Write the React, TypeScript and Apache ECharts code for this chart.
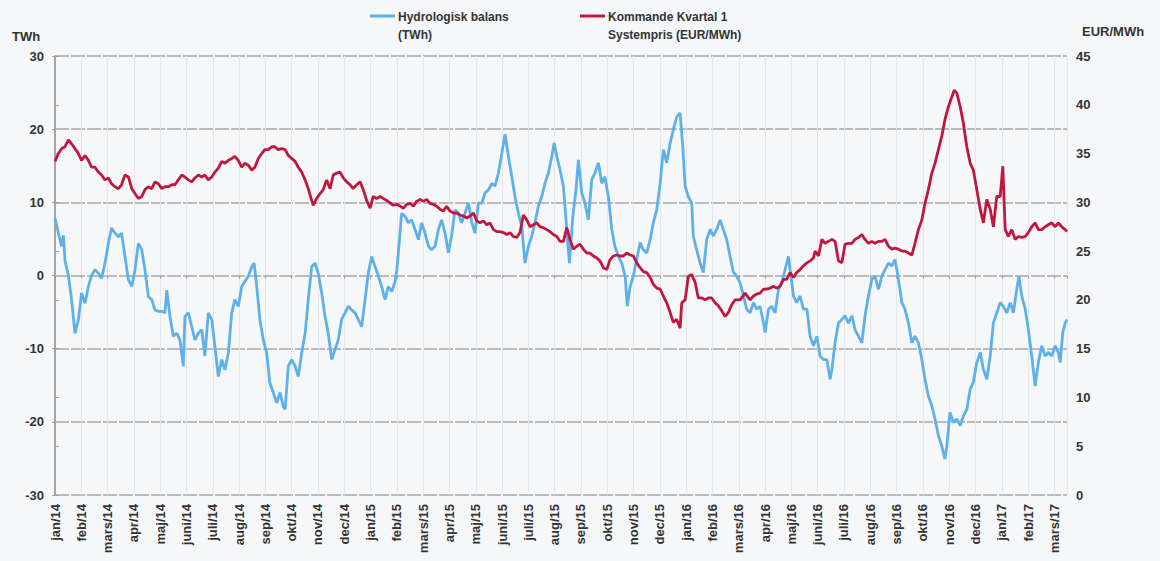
import React, { useEffect, useRef } from 'react';
import * as echarts from 'echarts';

const monthLabels = [
  'jan/14', 'feb/14', 'mars/14', 'apr/14', 'maj/14', 'juni/14', 'juli/14', 'aug/14', 'sep/14', 'okt/14', 'nov/14', 'dec/14',
  'jan/15', 'feb/15', 'mars/15', 'apr/15', 'maj/15', 'juni/15', 'juli/15', 'aug/15', 'sep/15', 'okt/15', 'nov/15', 'dec/15',
  'jan/16', 'feb/16', 'mars/16', 'apr/16', 'maj/16', 'juni/16', 'juli/16', 'aug/16', 'sep/16', 'okt/16', 'nov/16', 'dec/16',
  'jan/17', 'feb/17', 'mars/17',
];

const seriesNames = ['Hydrologisk balans\n(TWh)', 'Kommande Kvartal 1\nSystempris (EUR/MWh)'];

// position in months since the start of jan/14
const hydroMonth = [
  0.00, 0.13, 0.25, 0.32, 0.38, 0.51, 0.63, 0.76, 0.89, 1.01, 1.14, 1.27, 1.39, 1.52, 1.65, 1.77, 1.90, 2.03, 2.15, 2.28,
  2.41, 2.53, 2.66, 2.79, 2.92, 3.04, 3.17, 3.30, 3.42, 3.55, 3.68, 3.80, 3.93, 4.06, 4.18, 4.25, 4.37, 4.50, 4.63, 4.75,
  4.88, 4.94, 5.07, 5.20, 5.32, 5.45, 5.58, 5.70, 5.83, 5.96, 6.08, 6.21, 6.34, 6.46, 6.59, 6.72, 6.84, 6.97, 7.10, 7.22,
  7.35, 7.48, 7.57, 7.67, 7.79, 7.92, 8.05, 8.17, 8.30, 8.43, 8.56, 8.68, 8.75, 8.87, 9.00, 9.13, 9.25, 9.38, 9.51, 9.63,
  9.76, 9.89, 10.01, 10.14, 10.27, 10.39, 10.52, 10.65, 10.77, 10.90, 11.03, 11.15, 11.28, 11.41, 11.53, 11.66, 11.79, 11.91, 12.04, 12.17,
  12.29, 12.42, 12.55, 12.67, 12.80, 12.92, 13.00, 13.10, 13.18, 13.31, 13.44, 13.56, 13.69, 13.82, 13.94, 14.07, 14.20, 14.32, 14.45, 14.58,
  14.70, 14.83, 14.96, 15.08, 15.21, 15.34, 15.46, 15.59, 15.72, 15.85, 15.97, 16.10, 16.23, 16.35, 16.48, 16.61, 16.73, 16.86, 16.99, 17.11,
  17.24, 17.37, 17.49, 17.62, 17.75, 17.87, 18.00, 18.13, 18.25, 18.38, 18.51, 18.63, 18.76, 18.89, 18.98, 19.08, 19.20, 19.33, 19.46, 19.56,
  19.69, 19.81, 19.90, 20.03, 20.15, 20.28, 20.41, 20.53, 20.66, 20.79, 20.91, 21.04, 21.17, 21.29, 21.42, 21.55, 21.68, 21.76, 21.87, 21.99,
  22.12, 22.25, 22.37, 22.50, 22.63, 22.75, 22.88, 23.01, 23.13, 23.26, 23.39, 23.51, 23.64, 23.77, 23.87, 23.96, 24.08, 24.21, 24.27, 24.40,
  24.53, 24.65, 24.78, 24.91, 25.03, 25.16, 25.29, 25.41, 25.54, 25.67, 25.79, 25.92, 26.05, 26.18, 26.30, 26.43, 26.56, 26.68, 26.81, 26.94,
  27.00, 27.13, 27.25, 27.38, 27.51, 27.63, 27.76, 27.89, 27.95, 28.08, 28.20, 28.33, 28.46, 28.59, 28.71, 28.84, 28.97, 29.09, 29.22, 29.35,
  29.47, 29.54, 29.66, 29.79, 29.92, 30.04, 30.17, 30.30, 30.42, 30.55, 30.68, 30.80, 30.93, 31.06, 31.18, 31.31, 31.44, 31.56, 31.69, 31.82,
  31.94, 32.07, 32.20, 32.32, 32.45, 32.58, 32.70, 32.83, 32.96, 33.08, 33.21, 33.34, 33.46, 33.59, 33.72, 33.84, 33.91, 34.03, 34.16, 34.29,
  34.42, 34.54, 34.67, 34.80, 34.92, 35.05, 35.18, 35.30, 35.43, 35.56, 35.68, 35.81, 35.94, 36.06, 36.19, 36.32, 36.44, 36.57, 36.65, 36.76,
  36.89, 37.01, 37.14, 37.27, 37.39, 37.52, 37.65, 37.77, 37.90, 38.03, 38.15, 38.22, 38.32, 38.41, 38.48,
];

const hydroTWh = [
  7.8, 5.8, 4.0, 5.5, 2.0, 0.0, -3.3, -7.9, -6.0, -2.4, -3.8, -1.5, 0.0, 0.8, 0.3, -0.4, 1.7, 4.4, 6.5, 5.8,
  5.3, 5.8, 2.6, -0.6, -1.5, 0.8, 4.4, 3.5, 0.8, -2.9, -3.3, -4.7, -4.9, -4.9, -5.1, -2.0, -5.6, -8.3, -7.9, -8.8,
  -12.4, -5.6, -5.1, -7.0, -8.8, -7.9, -7.4, -11.0, -5.1, -6.0, -9.7, -13.8, -11.5, -12.9, -10.6, -5.1, -3.3, -4.2, -1.5, -0.8,
  -0.1, 1.2, 1.7, -1.5, -6.0, -8.8, -10.6, -14.7, -16.0, -17.4, -16.0, -17.9, -18.3, -12.4, -11.5, -12.4, -13.8, -10.6, -7.9, -3.3,
  1.2, 1.7, 0.3, -2.4, -5.6, -7.9, -11.5, -10.1, -8.8, -6.0, -5.1, -4.2, -4.7, -5.1, -6.0, -7.0, -3.3, 0.3, 2.6, 1.2,
  0.0, -1.5, -3.3, -1.5, -2.2, -1.0, 0.8, 5.0, 8.5, 8.1, 7.2, 7.6, 6.3, 4.9, 7.2, 5.8, 4.0, 3.5, 4.0, 6.3,
  7.6, 5.8, 3.1, 5.4, 9.0, 8.5, 7.2, 8.5, 9.9, 7.2, 5.8, 9.9, 9.9, 11.3, 11.7, 12.6, 12.2, 14.0, 16.7, 19.3,
  16.3, 13.5, 10.8, 8.5, 6.7, 1.7, 4.0, 5.4, 7.2, 9.5, 10.8, 12.6, 14.0, 16.3, 18.1, 16.3, 14.5, 12.2, 6.3, 1.7,
  8.1, 11.7, 15.8, 11.3, 9.9, 7.6, 13.1, 14.0, 15.4, 12.6, 13.5, 10.8, 6.3, 4.0, 2.6, 1.7, -0.1, -4.2, -1.5, -0.1,
  2.2, 4.5, 3.5, 3.1, 4.9, 7.2, 9.0, 12.6, 17.2, 15.4, 18.1, 19.9, 21.7, 22.2, 17.6, 12.2, 10.8, 9.9, 5.4, 3.5,
  1.7, 0.4, 4.9, 6.3, 5.4, 6.3, 7.6, 6.3, 4.9, 2.6, 0.5, -0.1, -1.0, -2.8, -4.6, -5.1, -3.7, -4.6, -4.2, -6.5,
  -7.8, -4.6, -4.2, -5.1, -1.9, -1.0, 0.8, 2.6, 0.8, -2.8, -3.7, -2.8, -4.6, -4.6, -8.3, -9.6, -8.3, -11.0, -11.5, -11.5,
  -14.2, -12.8, -9.2, -6.5, -6.0, -5.5, -6.5, -5.5, -7.4, -8.3, -9.2, -5.5, -2.8, -0.5, -0.1, -1.9, -0.1, 0.8, 1.7, 1.3,
  2.2, -0.5, -3.7, -4.6, -6.5, -9.2, -8.3, -9.2, -11.5, -14.2, -16.5, -17.8, -19.6, -21.9, -23.3, -25.1, -23.3, -18.7, -20.1, -19.6,
  -20.5, -19.2, -18.3, -15.5, -14.6, -11.9, -10.5, -12.8, -14.2, -11.0, -6.5, -5.1, -3.7, -4.2, -5.1, -3.7, -5.1, -1.9, -0.1, -2.8,
  -4.6, -7.4, -11.0, -15.1, -11.9, -9.6, -11.0, -10.5, -11.0, -9.6, -10.5, -11.9, -7.8, -6.5, -6.0,
];

const priceMonth = [
  0.00, 0.13, 0.25, 0.38, 0.51, 0.63, 0.76, 0.89, 1.01, 1.14, 1.27, 1.39, 1.52, 1.65, 1.77, 1.90, 2.03, 2.15, 2.28, 2.41,
  2.53, 2.66, 2.79, 2.92, 3.04, 3.17, 3.30, 3.42, 3.55, 3.68, 3.80, 3.93, 4.06, 4.18, 4.31, 4.44, 4.56, 4.69, 4.82, 4.94,
  5.07, 5.20, 5.32, 5.45, 5.58, 5.70, 5.83, 5.96, 6.08, 6.21, 6.34, 6.46, 6.59, 6.72, 6.84, 6.97, 7.10, 7.22, 7.35, 7.48,
  7.60, 7.73, 7.86, 7.98, 8.11, 8.24, 8.36, 8.49, 8.62, 8.75, 8.87, 9.00, 9.13, 9.25, 9.38, 9.51, 9.63, 9.76, 9.82, 9.95,
  10.08, 10.20, 10.33, 10.46, 10.58, 10.71, 10.84, 10.96, 11.09, 11.22, 11.34, 11.47, 11.60, 11.72, 11.85, 11.98, 12.10, 12.23, 12.36, 12.48,
  12.61, 12.86, 13.00, 13.25, 13.37, 13.50, 13.63, 13.75, 13.88, 14.01, 14.13, 14.26, 14.39, 14.51, 14.64, 14.77, 14.89, 15.02, 15.15, 15.27,
  15.40, 15.53, 15.66, 15.78, 15.91, 16.04, 16.16, 16.29, 16.42, 16.54, 16.67, 16.80, 16.92, 17.05, 17.18, 17.30, 17.43, 17.56, 17.68, 17.81,
  17.94, 18.06, 18.19, 18.32, 18.44, 18.57, 18.70, 18.82, 18.95, 19.08, 19.20, 19.33, 19.46, 19.58, 19.71, 19.84, 19.96, 20.09, 20.22, 20.34,
  20.47, 20.60, 20.72, 20.85, 20.98, 21.10, 21.23, 21.36, 21.49, 21.61, 21.74, 21.87, 21.99, 22.12, 22.25, 22.37, 22.50, 22.63, 22.75, 22.88,
  23.01, 23.13, 23.26, 23.39, 23.51, 23.64, 23.77, 23.83, 23.96, 24.08, 24.21, 24.34, 24.46, 24.59, 24.72, 24.84, 24.97, 25.10, 25.22, 25.35,
  25.48, 25.60, 25.73, 25.86, 26.05, 26.24, 26.43, 26.56, 26.68, 26.81, 26.94, 27.06, 27.19, 27.32, 27.44, 27.57, 27.70, 27.82, 27.95, 28.08,
  28.20, 28.33, 28.46, 28.59, 28.71, 28.84, 28.90, 29.03, 29.16, 29.28, 29.41, 29.54, 29.66, 29.79, 29.92, 30.04, 30.17, 30.30, 30.42, 30.55,
  30.68, 30.80, 30.93, 31.06, 31.18, 31.31, 31.44, 31.56, 31.69, 31.82, 31.94, 32.07, 32.20, 32.32, 32.45, 32.58, 32.70, 32.83, 32.96, 33.08,
  33.21, 33.34, 33.46, 33.59, 33.72, 33.84, 33.97, 34.10, 34.19, 34.29, 34.42, 34.54, 34.67, 34.80, 34.92, 35.05, 35.18, 35.30, 35.43, 35.56,
  35.68, 35.81, 35.94, 36.04, 36.13, 36.25, 36.38, 36.51, 36.63, 36.76, 36.89, 37.01, 37.14, 37.27, 37.39, 37.52, 37.65, 37.77, 37.90, 38.03,
  38.15, 38.28, 38.41, 38.48,
];

const priceEUR = [
  34.2, 35.0, 35.5, 35.7, 36.4, 36.0, 35.5, 35.0, 34.3, 34.8, 34.3, 33.6, 33.6, 33.1, 32.8, 32.3, 32.5, 31.9, 31.6, 31.4,
  31.8, 32.8, 32.6, 31.4, 30.9, 30.4, 30.6, 31.3, 31.6, 31.4, 32.1, 31.9, 31.4, 31.6, 31.6, 31.8, 31.8, 32.3, 32.8, 32.6,
  32.3, 32.1, 32.5, 32.8, 32.6, 32.8, 32.3, 32.6, 33.1, 33.5, 34.2, 34.0, 34.3, 34.5, 34.7, 34.3, 33.6, 34.0, 33.8, 33.3,
  33.6, 34.5, 35.0, 35.4, 35.4, 35.7, 35.7, 35.4, 35.5, 35.4, 34.8, 34.5, 34.2, 33.6, 33.1, 32.3, 31.4, 30.2, 29.7, 30.4,
  30.9, 31.3, 32.3, 31.4, 32.8, 33.0, 33.1, 32.5, 32.1, 31.8, 31.4, 31.8, 32.1, 31.3, 30.2, 29.4, 30.6, 30.4, 30.6, 30.4,
  30.2, 29.7, 29.8, 29.4, 29.8, 29.9, 29.6, 30.1, 30.3, 30.1, 30.3, 29.9, 29.8, 29.6, 29.3, 29.1, 29.6, 29.1, 28.9, 28.9,
  28.7, 28.6, 28.4, 28.6, 28.9, 28.1, 27.9, 28.1, 27.7, 27.9, 27.2, 27.0, 27.0, 26.9, 26.7, 26.9, 26.5, 26.4, 26.9, 28.7,
  28.2, 27.5, 27.7, 27.9, 27.5, 27.4, 27.2, 27.0, 26.7, 26.5, 26.0, 26.0, 27.4, 26.2, 25.2, 25.5, 25.7, 25.2, 24.8, 24.8,
  24.5, 24.3, 24.0, 23.3, 23.1, 24.1, 24.5, 24.6, 24.5, 24.5, 24.8, 24.6, 24.5, 23.8, 23.3, 22.9, 22.8, 22.3, 21.6, 21.2,
  21.1, 20.4, 19.7, 18.7, 17.7, 18.0, 17.1, 19.7, 20.0, 22.4, 22.6, 21.8, 20.2, 20.2, 20.0, 20.2, 20.2, 19.7, 19.4, 18.9,
  18.3, 18.7, 19.5, 20.0, 20.0, 20.7, 20.0, 20.4, 20.6, 20.7, 21.1, 21.1, 21.2, 21.4, 21.2, 21.4, 22.1, 22.1, 22.8, 22.3,
  22.8, 23.1, 23.5, 23.8, 24.0, 24.3, 25.0, 24.5, 26.2, 25.8, 26.0, 26.2, 26.0, 24.0, 23.8, 25.7, 25.8, 25.8, 26.2, 26.4,
  26.7, 26.2, 25.8, 26.0, 25.8, 26.0, 26.0, 26.2, 25.5, 25.2, 25.3, 25.2, 25.0, 25.0, 24.8, 24.6, 25.8, 27.2, 28.2, 29.9,
  31.3, 33.0, 34.0, 35.4, 36.8, 38.5, 39.8, 40.8, 41.5, 41.2, 39.8, 38.1, 35.7, 34.0, 33.3, 31.3, 29.3, 27.9, 30.3, 29.3,
  27.5, 30.6, 30.6, 33.7, 27.2, 26.5, 27.2, 26.2, 26.5, 26.4, 26.5, 26.9, 27.5, 27.9, 27.2, 27.2, 27.5, 27.7, 27.9, 27.5,
  27.9, 27.5, 27.2, 27.0,
];

const FONT = "'Liberation Sans', Arial, sans-serif";
const BLUE = '#5db1e8';
const RED = '#c0173f';
const TEXT = '#333333';

export default function App() {
  const ref = useRef<HTMLDivElement>(null);

  useEffect(() => {
    const chart = echarts.init(ref.current!, null, { renderer: 'svg' });
    const xMax = 38.48;
    chart.setOption({
      animation: false,
      backgroundColor: '#f6f7f9',
      textStyle: { fontFamily: FONT },
      grid: { left: 55, right: 93, top: 56, bottom: 66, containLabel: false },
      xAxis: [
        {
          type: 'value',
          min: 0,
          max: xMax,
          interval: 1,
          axisLine: { show: false, onZero: false },
          axisTick: { show: false },
          axisLabel: {
            rotate: 90,
            margin: 9,
            fontSize: 13,
            fontWeight: 'bold',
            color: TEXT,
            fontFamily: FONT,
            formatter: (v: number) => (Number.isInteger(v) && monthLabels[v] ? monthLabels[v] : ''),
          },
          splitLine: { show: true, lineStyle: { color: '#e3e6eb', width: 1 } },
        },
        {
          type: 'value',
          min: 0,
          max: xMax,
          interval: 1,
          position: 'top',
          axisLine: { show: false, onZero: true },
          axisTick: { show: true, inside: true, length: 3, lineStyle: { color: '#999' } },
          axisLabel: { show: false },
          splitLine: { show: false },
        },
      ],
      yAxis: [
        {
          type: 'value',
          min: -30,
          max: 30,
          interval: 10,
          position: 'left',
          axisLine: { show: true, lineStyle: { color: '#a0a0a0', width: 1.5 } },
          axisTick: { show: true, length: 3, lineStyle: { color: '#a0a0a0' } },
          axisLabel: { margin: 11, fontSize: 13, fontWeight: 'bold', color: TEXT, fontFamily: FONT },
          splitLine: { show: true, lineStyle: { color: '#a6a6a6', width: 1.6, type: [14, 2] } },
        },
        {
          type: 'value',
          min: 0,
          max: 45,
          interval: 5,
          position: 'right',
          axisLine: { show: true, lineStyle: { color: '#a0a0a0', width: 1.5 } },
          axisTick: { show: true, length: 4, lineStyle: { color: '#a0a0a0' } },
          axisLabel: { margin: 9, fontSize: 13, fontWeight: 'bold', color: TEXT, fontFamily: FONT },
          splitLine: { show: false },
        },
      ],
      graphic: [
        { type: 'text', left: 12, top: 30, style: { text: 'TWh', font: `bold 13px ${FONT}`, fill: TEXT } },
        { type: 'text', left: 1082, top: 25, style: { text: 'EUR/MWh', font: `bold 13px ${FONT}`, fill: TEXT } },
        { type: 'line', shape: { x1: 370, y1: 16, x2: 395, y2: 16 }, style: { stroke: BLUE, lineWidth: 3 } },
        { type: 'text', left: 398, top: 8, style: { text: seriesNames[0], font: `bold 12px ${FONT}`, fill: TEXT, lineHeight: 18 } },
        { type: 'line', shape: { x1: 580, y1: 16, x2: 605, y2: 16 }, style: { stroke: RED, lineWidth: 3 } },
        { type: 'text', left: 608, top: 8, style: { text: seriesNames[1], font: `bold 12px ${FONT}`, fill: TEXT, lineHeight: 18 } },
      ],
      series: [
        {
          name: seriesNames[0],
          type: 'line',
          xAxisIndex: 0,
          yAxisIndex: 0,
          showSymbol: false,
          data: hydroMonth.map((m, i) => [m, hydroTWh[i]]),
          lineStyle: { color: BLUE, width: 2.8 },
          itemStyle: { color: BLUE },
        },
        {
          name: seriesNames[1],
          type: 'line',
          xAxisIndex: 0,
          yAxisIndex: 1,
          showSymbol: false,
          data: priceMonth.map((m, i) => [m, priceEUR[i]]),
          lineStyle: { color: RED, width: 2.8 },
          itemStyle: { color: RED },
        },
      ],
    });
    return () => chart.dispose();
  }, []);

  return (
    <div
      ref={ref}
      style={{ position: 'fixed', left: 0, top: 0, width: 1160, height: 561, background: '#f6f7f9' }}
    />
  );
}
